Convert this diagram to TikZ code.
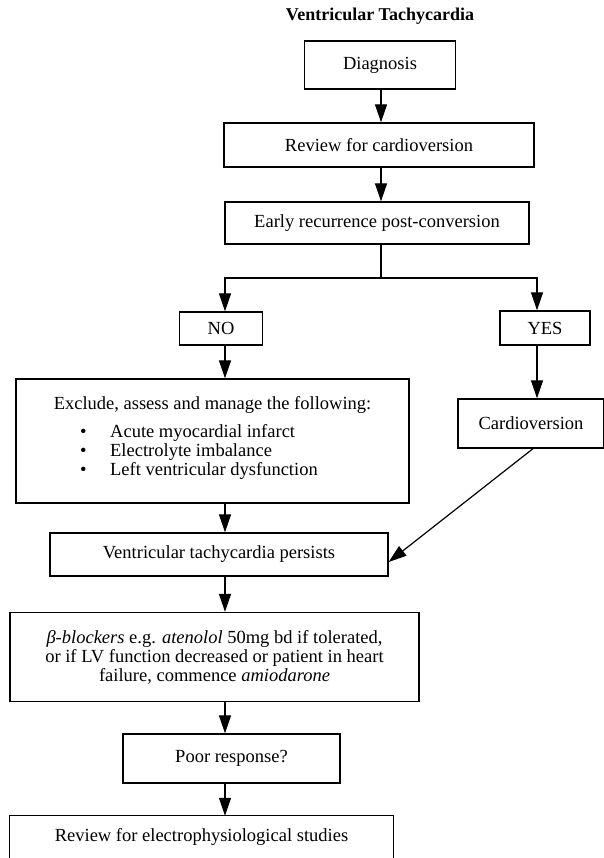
\documentclass[tikz,border=0pt]{standalone}
\usepackage{fontspec}
\setmainfont{Liberation Serif}
\usetikzlibrary{arrows.meta}
\begin{document}
\begin{tikzpicture}[x=1pt,y=-1pt,
  box/.style={draw, line width=1.3pt, inner sep=0pt, align=center, font=\fontsize{18.5}{19}\selectfont},
  txt/.style={inner sep=0pt, font=\fontsize{18.5}{19}\selectfont},
  link/.style={line width=1.2pt},
  arr/.style={line width=1.2pt, -{Triangle[length=18pt,width=12pt]}}]
\useasboundingbox (0,0) rectangle (604,858);

% heading
\node[txt, font=\fontsize{18}{19}\selectfont\bfseries] (title) at (380,16) {Ventricular Tachycardia};

% main column of boxes
\node[box, minimum width=151pt, minimum height=48pt] (diag) at (380,65) {Diagnosis};
\node[box, minimum width=310pt, minimum height=44pt] (rev) at (379,145) {Review for cardioversion};
\node[box, minimum width=304pt, minimum height=42pt] (early) at (377,223) {Early recurrence post-conversion};
\node[box, minimum width=83pt, minimum height=33pt] (no) at (221,328.5) {NO};
\node[box, minimum width=90pt, minimum height=34pt] (yes) at (545,328) {YES};

% exclusion checklist
\node[box, minimum width=393pt, minimum height=124pt] (excl) at (212.5,441) {};
\node[txt] (exhead) at (212.5,405) {Exclude, assess and manage the following:};
\node[txt, anchor=west, align=left] (exlist) at (80,453)
  {\begin{tabular}{@{}p{30pt}@{}l@{}}
   \textbullet & Acute myocardial infarct\\
   \textbullet & Electrolyte imbalance\\
   \textbullet & Left ventricular dysfunction
   \end{tabular}};

\node[box, minimum width=146pt, minimum height=49pt] (card) at (531,423.5) {Cardioversion};
\node[box, minimum width=338pt, minimum height=43pt] (vt) at (219,554.5) {Ventricular tachycardia persists};
\node[box, minimum width=409pt, minimum height=89pt] (beta) at (214.5,657)
  {\textit{β-blockers} e.g. \textit{atenolol} 50mg bd if tolerated,\\
   or if LV function decreased or patient in heart\\
   failure, commence \textit{amiodarone}};
\node[box, minimum width=217pt, minimum height=49pt] (poor) at (231.5,758.5) {Poor response?};
\node[txt, minimum width=383pt, minimum height=42pt] (ep) at (201.5,837) {Review for electrophysiological studies};
\draw[line width=1.3pt] (ep.south west) |- (ep.north east) -- (ep.south east);

% connector columns
\coordinate (col) at (225,0);
\coordinate (ycol) at (537,0);
\coordinate (split) at (381,278);

\draw[arr] (diag.south -| split) -- (rev.north -| split);
\draw[arr] (rev.south -| split) -- (early.north -| split);
\draw[link] (early.south -| split) -- (split);
\draw[arr] (split) -| (no.north -| col);
\draw[arr] (split) -| (yes.north -| ycol);
\draw[arr] (no.south -| col) -- (excl.north -| col);
\draw[arr] (yes.south -| ycol) -- (card.north -| ycol);
\draw[arr] (excl.south -| col) -- (vt.north -| col);
\draw[arr] ([xshift=2pt]card.south) -- ([yshift=-7.5pt]vt.east);
\draw[arr] (vt.south -| col) -- (beta.north -| col);
\draw[arr] (beta.south -| col) -- (poor.north -| col);
\draw[arr] (poor.south -| col) -- (ep.north -| col);
\end{tikzpicture}
\end{document}
